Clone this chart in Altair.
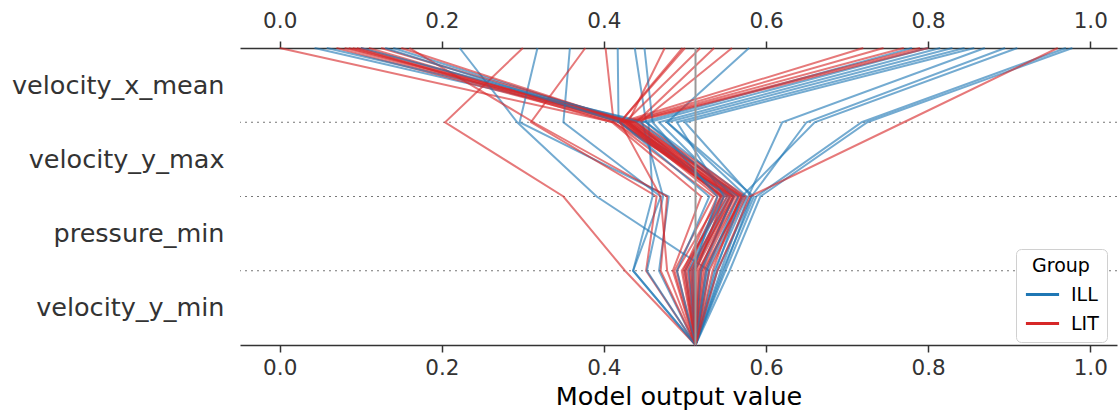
import altair as alt
import pandas as pd

# Decision-plot layout: features listed from bottom to top
features = ["velocity_y_min", "pressure_min", "velocity_y_max", "velocity_x_mean"]
base_value = 0.513

# One entry per sample: group and cumulative model output after each feature
groups = [
    "LIT", "ILL", "LIT", "ILL", "LIT", "ILL", "LIT", "ILL", "LIT", "ILL",
    "LIT", "ILL", "LIT", "ILL", "LIT", "ILL", "LIT", "ILL", "LIT", "ILL",
    "LIT", "ILL", "LIT", "ILL", "LIT", "ILL", "LIT", "ILL", "LIT", "ILL",
    "LIT", "ILL", "LIT", "ILL", "LIT", "ILL", "LIT", "ILL", "LIT", "ILL",
    "LIT", "ILL", "LIT", "ILL", "LIT", "LIT", "LIT", "ILL", "LIT",
]
after_velocity_y_min = [
    0.487, 0.500, 0.500, 0.518, 0.506, 0.508, 0.512, 0.530, 0.520, 0.468,
    0.496, 0.436, 0.526, 0.512, 0.490, 0.528, 0.426, 0.546, 0.452, 0.453,
    0.470, 0.436, 0.518, 0.520, 0.505, 0.536, 0.514, 0.504, 0.498, 0.540,
    0.522, 0.555, 0.530, 0.550, 0.508, 0.544, 0.516, 0.548, 0.502, 0.538,
    0.524, 0.510, 0.510, 0.526, 0.540, 0.485, 0.534, 0.490, 0.478,
]
after_pressure_min = [
    0.535, 0.545, 0.548, 0.560, 0.556, 0.552, 0.562, 0.391, 0.566, 0.480,
    0.552, 0.470, 0.570, 0.555, 0.544, 0.573, 0.350, 0.585, 0.465, 0.473,
    0.478, 0.460, 0.560, 0.560, 0.555, 0.576, 0.548, 0.548, 0.540, 0.582,
    0.572, 0.593, 0.575, 0.588, 0.560, 0.578, 0.565, 0.582, 0.545, 0.570,
    0.570, 0.540, 0.558, 0.566, 0.580, 0.520, 0.568, 0.530, 0.470,
]
after_velocity_y_max = [
    0.412, 0.440, 0.418, 0.452, 0.425, 0.430, 0.428, 0.293, 0.432, 0.296,
    0.422, 0.350, 0.436, 0.418, 0.430, 0.452, 0.204, 0.478, 0.310, 0.447,
    0.313, 0.455, 0.412, 0.468, 0.430, 0.478, 0.420, 0.490, 0.426, 0.500,
    0.440, 0.725, 0.445, 0.718, 0.420, 0.620, 0.425, 0.650, 0.428, 0.660,
    0.432, 0.460, 0.435, 0.444, 0.770, 0.410, 0.438, 0.420, 0.420,
]
after_velocity_x_mean = [
    0.000, 0.043, 0.070, 0.058, 0.080, 0.140, 0.090, 0.222, 0.100, 0.318,
    0.110, 0.358, 0.125, 0.417, 0.150, 0.438, 0.300, 0.579, 0.377, 0.780,
    0.160, 0.800, 0.402, 0.815, 0.475, 0.830, 0.497, 0.845, 0.519, 0.857,
    0.536, 0.978, 0.558, 0.970, 0.720, 0.870, 0.745, 0.895, 0.770, 0.910,
    0.790, 0.450, 0.800, 0.100, 0.960, 0.095, 0.085, 0.130, 0.500,
]

rows = []
for i, g in enumerate(groups):
    path = [base_value, after_velocity_y_min[i], after_pressure_min[i],
            after_velocity_y_max[i], after_velocity_x_mean[i]]
    for level, v in enumerate(path):
        rows.append({"sample": i, "Group": g, "level": level, "value": v})
paths = pd.DataFrame(rows)

separators = pd.DataFrame({"level": [1, 2, 3]})
base_df = pd.DataFrame({"value": [base_value], "y0": [0], "y1": [4]})

FONT = "DejaVu Sans"
INK = "#333333"

x_scale = alt.Scale(domain=[-0.049, 1.033], nice=False, zero=False)
y_scale = alt.Scale(domain=[0, 4], nice=False, zero=False)
tick_values = [0.0, 0.2, 0.4, 0.6, 0.8, 1.0]

label_expr = (
    f"datum.value < 1 ? '{features[0]}' : datum.value < 2 ? '{features[1]}' : "
    f"datum.value < 3 ? '{features[2]}' : '{features[3]}'"
)

bottom_axis = alt.Axis(
    orient="bottom", values=tick_values, format=".1f", grid=False,
    labelFontSize=21.5, labelColor=INK, labelPadding=5,
    tickSize=7, tickWidth=1.5, tickColor=INK, domainColor=INK, domainWidth=1.6,
    title="Model output value", titleFontSize=25.5, titleFontWeight="normal",
    titleColor="black", titlePadding=6,
)
top_axis = alt.Axis(
    orient="top", values=tick_values, format=".1f", grid=False,
    labelFontSize=21.5, labelColor=INK, labelPadding=9,
    tickSize=7, tickWidth=1.5, tickColor=INK, domainColor=INK, domainWidth=1.6,
    title=None,
)
feature_axis = alt.Axis(
    values=[0.5, 1.5, 2.5, 3.5], labelExpr=label_expr, ticks=False, domain=False,
    grid=False, title=None, labelFontSize=25.5, labelColor=INK, labelPadding=16,
    labelLimit=400,
)

lines = alt.Chart(paths).mark_line(strokeWidth=2, opacity=0.62).encode(
    x=alt.X("value:Q", scale=x_scale, axis=bottom_axis),
    y=alt.Y("level:Q", scale=y_scale, axis=feature_axis),
    detail="sample:N",
    order=alt.Order("level:Q"),
    color=alt.Color(
        "Group:N",
        scale=alt.Scale(domain=["ILL", "LIT"], range=["#1f77b4", "#d62728"]),
        legend=alt.Legend(
            title="Group", orient="none", legendX=776, legendY=201,
            titleFontSize=19, titleFontWeight="normal", titleColor="black",
            titleAnchor="middle", titlePadding=0,
            labelFontSize=19, labelColor="black", labelOffset=10,
            symbolType="stroke", symbolSize=1100, symbolStrokeWidth=3,
            symbolOpacity=1, rowPadding=-7,
            fillColor="white", strokeColor="#d0d0d0", cornerRadius=5,
            padding=8,
        ),
    ),
)

grid = alt.Chart(separators).mark_rule(
    color="#777777", strokeWidth=1.2, strokeDash=[2, 4]
).encode(y=alt.Y("level:Q", scale=y_scale, axis=None))

base_line = alt.Chart(base_df).mark_rule(color="#999999", strokeWidth=2).encode(
    x=alt.X("value:Q", scale=x_scale, axis=top_axis),
    y=alt.Y("y0:Q", scale=y_scale, axis=None),
    y2="y1:Q",
)

chart = (
    alt.layer(grid, lines, base_line)
    .resolve_axis(x="independent", y="independent")
    .properties(
        width=877, height=297,
        autosize=alt.AutoSizeParams(type="none"),
        padding={"left": 240, "top": 48, "right": 1, "bottom": 70},
        background="white",
    )
    .configure(font=FONT)
    .configure_view(stroke=None)
)

chart.save("out.html", embed_options={"renderer": "svg", "actions": False})
